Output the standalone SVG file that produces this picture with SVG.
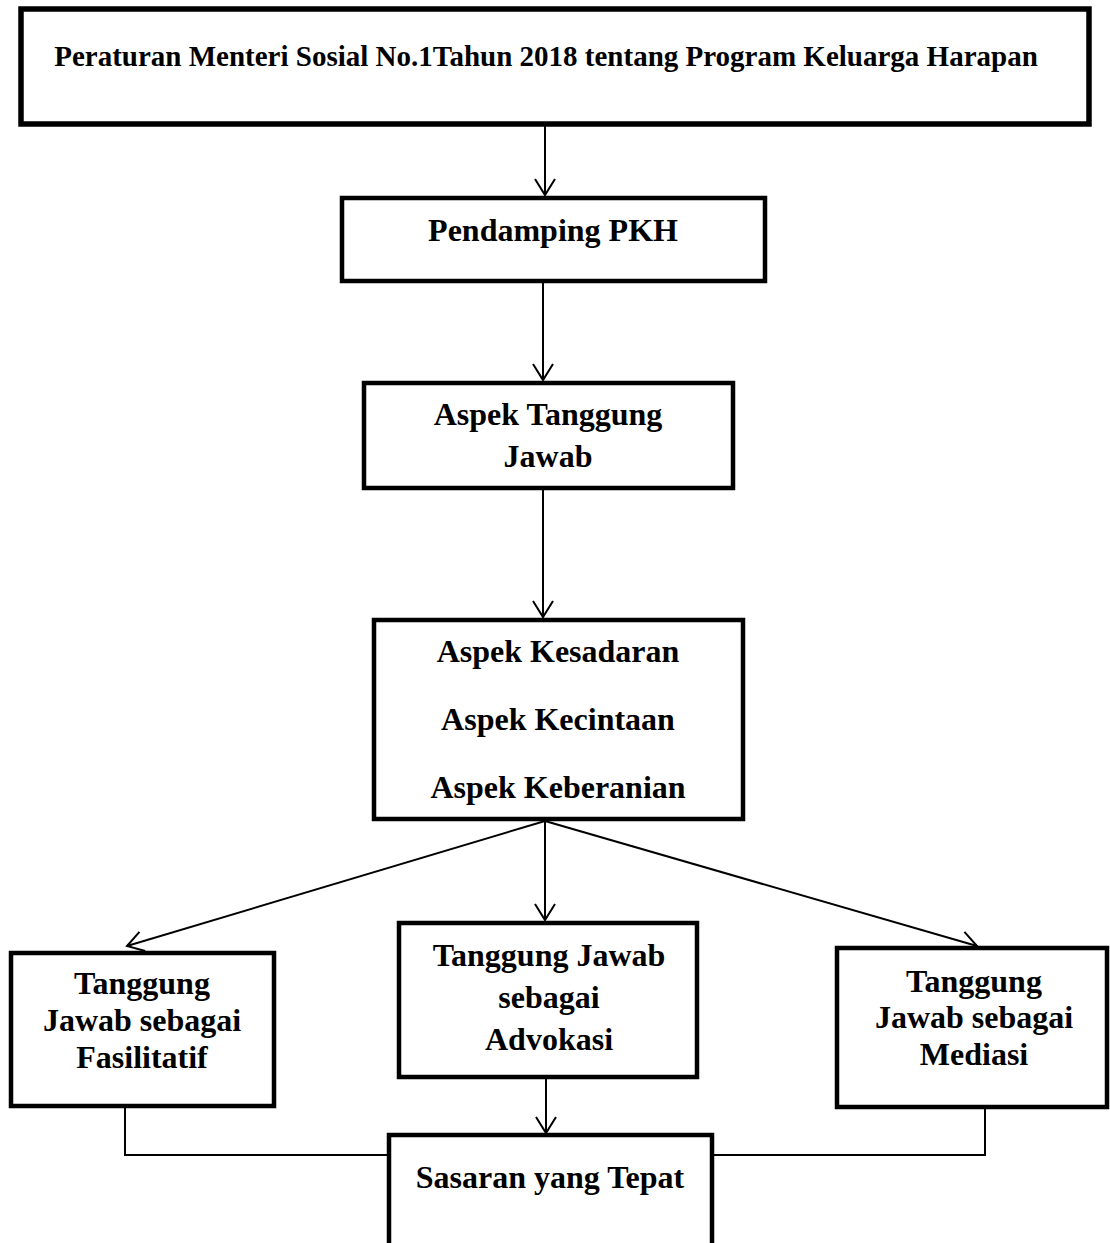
<svg xmlns="http://www.w3.org/2000/svg" width="1110" height="1243" viewBox="0 0 1110 1243">
<style>
  .box { fill: #fff; stroke: #000; stroke-width: 4.5; }
  .t { font-family: "Liberation Serif", "Times New Roman", serif; font-weight: bold; font-size: 32px; fill: #000; text-anchor: middle; }
  .c { stroke: #000; stroke-width: 2; fill: none; }
</style>
<defs>
  <marker id="ah" markerUnits="userSpaceOnUse" markerWidth="24" markerHeight="24" viewBox="-20 -12 24 24" refX="0" refY="0" orient="auto">
    <path d="M-16,-10 L0,0 L-16,10" fill="none" stroke="#000" stroke-width="2"/>
  </marker>
</defs>
<rect width="1110" height="1243" fill="#fff"/>
<g id="connectors">
  <line class="c" x1="545" y1="125" x2="545" y2="195" marker-end="url(#ah)"/>
  <line class="c" x1="543" y1="281" x2="543" y2="380" marker-end="url(#ah)"/>
  <line class="c" x1="543" y1="488" x2="543" y2="617" marker-end="url(#ah)"/>
  <line class="c" x1="545" y1="821" x2="127" y2="946" marker-end="url(#ah)"/>
  <line class="c" x1="545" y1="821" x2="545" y2="920" marker-end="url(#ah)"/>
  <line class="c" x1="545" y1="821" x2="977" y2="946" marker-end="url(#ah)"/>
  <line class="c" x1="546" y1="1077" x2="546" y2="1133" marker-end="url(#ah)"/>
  <polyline class="c" points="125,1106 125,1155 389,1155"/>
  <polyline class="c" points="985,1107 985,1155 712,1155"/>
</g>
<g id="n-peraturan">
  <rect class="box" x="21" y="9" width="1068" height="115" style="stroke-width:5.5"/>
  <text class="t" x="546" y="66" style="font-size:29px">Peraturan Menteri Sosial No.1Tahun 2018 tentang Program Keluarga Harapan</text>
</g>
<g id="n-pendamping">
  <rect class="box" x="342" y="198" width="423" height="83"/>
  <text class="t" x="553" y="241">Pendamping PKH</text>
</g>
<g id="n-aspek-tj">
  <rect class="box" x="364" y="383" width="369" height="105"/>
  <text class="t" x="548" y="425">Aspek Tanggung</text>
  <text class="t" x="548" y="467">Jawab</text>
</g>
<g id="n-aspek">
  <rect class="box" x="374" y="620" width="369" height="199"/>
  <text class="t" x="558" y="662">Aspek Kesadaran</text>
  <text class="t" x="558" y="730">Aspek Kecintaan</text>
  <text class="t" x="558" y="798">Aspek Keberanian</text>
</g>
<g id="n-fasilitatif">
  <rect class="box" x="11" y="953" width="263" height="153"/>
  <text class="t" x="142" y="994">Tanggung</text>
  <text class="t" x="142" y="1031">Jawab sebagai</text>
  <text class="t" x="142" y="1068">Fasilitatif</text>
</g>
<g id="n-advokasi">
  <rect class="box" x="399" y="923" width="298" height="154"/>
  <text class="t" x="549" y="966">Tanggung Jawab</text>
  <text class="t" x="549" y="1008">sebagai</text>
  <text class="t" x="549" y="1050">Advokasi</text>
</g>
<g id="n-mediasi">
  <rect class="box" x="837" y="948" width="270" height="159"/>
  <text class="t" x="974" y="992">Tanggung</text>
  <text class="t" x="974" y="1028">Jawab sebagai</text>
  <text class="t" x="974" y="1065">Mediasi</text>
</g>
<g id="n-sasaran">
  <rect class="box" x="389" y="1135" width="323" height="130"/>
  <text class="t" x="550" y="1188">Sasaran yang Tepat</text>
</g>
</svg>
